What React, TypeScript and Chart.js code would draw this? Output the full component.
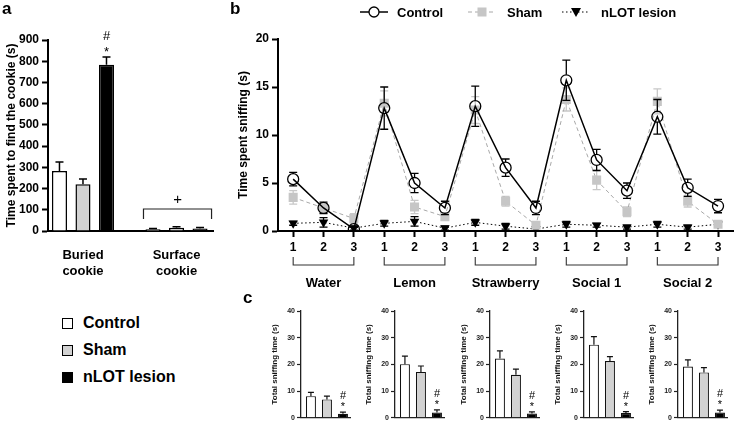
import React, { useEffect, useRef } from "react";
import { Chart, registerables } from "chart.js";
Chart.register(...registerables);

const FONT = "'Liberation Sans', Arial, Helvetica, sans-serif";

// ---------- shared ----------
const seriesNames = ["Control", "Sham", "nLOT lesion"];
const seriesFill = ["#ffffff", "#d2d2d2", "#000000"];
const sigMarks = ["#", "*"];

// ---------- panel a ----------
const cookieLabels = [["Buried", "cookie"], ["Surface", "cookie"]];
const cookieControl = [283, 8];
const cookieControlErr = [42, 4];
const cookieSham = [220, 15];
const cookieShamErr = [25, 5];
const cookieLesion = [783, 12];
const cookieLesionErr = [37, 5];
const cookieMark = "+";

// ---------- panel b ----------
const trialLabels = ["1", "2", "3", "1", "2", "3", "1", "2", "3", "1", "2", "3", "1", "2", "3"];
const odorNames = ["Water", "Lemon", "Strawberry", "Social 1", "Social 2"];
const sniffControl = [5.4, 2.4, 0.2, 12.8, 5.0, 2.4, 13.0, 6.6, 2.4, 15.7, 7.4, 4.2, 11.9, 4.5, 2.6];
const sniffControlErr = [0.7, 0.6, 0.2, 2.2, 1.0, 0.7, 2.1, 0.9, 0.7, 2.1, 1.1, 0.8, 1.8, 0.9, 0.7];
const sniffSham = [3.5, 2.4, 1.3, 13.3, 2.5, 1.5, 12.6, 3.1, 0.6, 13.7, 5.3, 2.0, 13.5, 3.1, 0.7];
const sniffShamErr = [0.7, 0.5, 0.5, 1.3, 0.7, 0.4, 1.4, 0.5, 0.3, 1.2, 1.0, 0.5, 1.3, 0.6, 0.3];
const sniffLesion = [0.8, 0.9, 0.3, 0.8, 1.0, 0.3, 0.9, 0.5, 0.2, 0.7, 0.6, 0.4, 0.7, 0.4, 0.7];
const sniffLesionErr = [0.2, 0.5, 0.2, 0.3, 0.5, 0.2, 0.3, 0.3, 0.2, 0.3, 0.2, 0.2, 0.3, 0.2, 0.2];

// ---------- panel c ----------
const totalControl = [8.1, 20.1, 22.2, 27.4, 19.2];
const totalControlErr = [1.4, 3.0, 2.9, 3.0, 2.5];
const totalSham = [6.9, 17.2, 16.1, 21.3, 17.0];
const totalShamErr = [1.2, 2.2, 2.1, 1.6, 1.8];
const totalLesion = [1.5, 2.0, 1.6, 1.8, 2.0];
const totalLesionErr = [0.6, 1.0, 0.6, 0.5, 0.9];

// ---------- plugins ----------
function barErrors(cap: number, width: number, color: string) {
  return {
    id: "barErrors",
    afterDatasetsDraw(chart: any) {
      const { ctx } = chart;
      const y = chart.scales.y;
      chart.data.datasets.forEach((ds: any, di: number) => {
        const meta = chart.getDatasetMeta(di);
        meta.data.forEach((el: any, j: number) => {
          const v = ds.data[j].y;
          const e = ds.errors[j];
          const top = y.getPixelForValue(v + e);
          ctx.save();
          ctx.strokeStyle = color;
          ctx.lineWidth = width;
          ctx.beginPath();
          ctx.moveTo(el.x, el.y);
          ctx.lineTo(el.x, top);
          ctx.moveTo(el.x - cap / 2, top);
          ctx.lineTo(el.x + cap / 2, top);
          ctx.stroke();
          ctx.restore();
        });
      });
    },
  };
}

function sigPlugin(di: number, idx: number, size: number, starGap: number, hashGap: number) {
  return {
    id: "sig",
    afterDatasetsDraw(chart: any) {
      const { ctx } = chart;
      const ds: any = chart.data.datasets[di];
      const el: any = chart.getDatasetMeta(di).data[idx];
      const top = chart.scales.y.getPixelForValue(ds.data[idx].y + ds.errors[idx]);
      ctx.save();
      ctx.fillStyle = "#000";
      ctx.font = `${size}px ${FONT}`;
      ctx.textAlign = "center";
      ctx.textBaseline = "middle";
      ctx.fillText(sigMarks[0], el.x, top - hashGap);
      ctx.fillText(sigMarks[1], el.x, top - starGap);
      ctx.restore();
    },
  };
}

const cookieBracket = {
  id: "cookieBracket",
  afterDatasetsDraw(chart: any) {
    const { ctx, chartArea } = chart;
    const a: any = chart.getDatasetMeta(0).data[1];
    const b: any = chart.getDatasetMeta(2).data[1];
    const x1 = a.x - a.width / 2 - 2;
    const x2 = b.x + b.width / 2 + 4;
    const yTop = chartArea.bottom - 22;
    const yBot = chartArea.bottom - 12;
    ctx.save();
    ctx.strokeStyle = "#222";
    ctx.lineWidth = 1.2;
    ctx.beginPath();
    ctx.moveTo(x1, yBot);
    ctx.lineTo(x1, yTop);
    ctx.lineTo(x2, yTop);
    ctx.lineTo(x2, yBot);
    ctx.stroke();
    ctx.fillStyle = "#000";
    ctx.font = `15px ${FONT}`;
    ctx.textAlign = "center";
    ctx.textBaseline = "middle";
    ctx.fillText(cookieMark, (x1 + x2) / 2, yTop - 9);
    ctx.restore();
  },
};

const lineErrors = {
  id: "lineErrors",
  beforeDatasetDraw(chart: any, args: any) {
    const { ctx } = chart;
    const ds: any = chart.data.datasets[args.index];
    const y = chart.scales.y;
    ctx.save();
    ctx.strokeStyle = ds.errColor;
    ctx.lineWidth = 1.3;
    args.meta.data.forEach((el: any, j: number) => {
      const v = ds.data[j];
      const e = ds.errors[j];
      const top = y.getPixelForValue(v + e);
      const bot = y.getPixelForValue(Math.max(v - e, 0));
      const r = ds.skipR;
      ctx.beginPath();
      if (top < el.y - r) {
        ctx.moveTo(el.x, el.y - r);
        ctx.lineTo(el.x, top);
      }
      if (bot > el.y + r) {
        ctx.moveTo(el.x, el.y + r);
        ctx.lineTo(el.x, bot);
      }
      ctx.moveTo(el.x - 4, top);
      ctx.lineTo(el.x + 4, top);
      ctx.moveTo(el.x - 4, bot);
      ctx.lineTo(el.x + 4, bot);
      ctx.stroke();
    });
    ctx.restore();
  },
};

const odorBrackets = {
  id: "odorBrackets",
  afterDraw(chart: any) {
    const { ctx } = chart;
    const x = chart.scales.x;
    ctx.save();
    ctx.strokeStyle = "#333";
    ctx.lineWidth = 1.1;
    odorNames.forEach((name, g) => {
      const x1 = x.getPixelForValue(g * 3);
      const x2 = x.getPixelForValue(g * 3 + 2);
      ctx.beginPath();
      ctx.moveTo(x1, 257);
      ctx.lineTo(x1, 265);
      ctx.lineTo(x2, 265);
      ctx.lineTo(x2, 257);
      ctx.stroke();
      ctx.fillStyle = "#000";
      ctx.font = `bold 13px ${FONT}`;
      ctx.textAlign = "center";
      ctx.textBaseline = "middle";
      ctx.fillText(name, (x1 + x2) / 2, 283);
    });
    ctx.restore();
  },
};

const sniffLegend = {
  id: "sniffLegend",
  afterDraw(chart: any) {
    const { ctx } = chart;
    const y = 12;
    const items = [
      { x: 130, tx: 167 },
      { x: 238, tx: 277 },
      { x: 332, tx: 371 },
    ];
    ctx.save();
    items.forEach((it, i) => {
      const ds: any = chart.data.datasets[i];
      ctx.strokeStyle = ds.borderColor;
      ctx.lineWidth = ds.borderWidth;
      ctx.setLineDash(ds.borderDash || []);
      ctx.beginPath();
      ctx.moveTo(it.x, y);
      ctx.lineTo(it.x + 28, y);
      ctx.stroke();
      ctx.setLineDash([]);
      const cx = it.x + 14;
      if (i === 0) {
        ctx.fillStyle = "#fff";
        ctx.strokeStyle = "#000";
        ctx.lineWidth = 1.3;
        ctx.beginPath();
        ctx.arc(cx, y, 5, 0, Math.PI * 2);
        ctx.fill();
        ctx.stroke();
      } else if (i === 1) {
        ctx.fillStyle = "#c6c6c6";
        ctx.fillRect(cx - 4.5, y - 4.5, 9, 9);
      } else {
        ctx.fillStyle = "#000";
        ctx.beginPath();
        ctx.moveTo(cx - 5, y - 4);
        ctx.lineTo(cx + 5, y - 4);
        ctx.lineTo(cx, y + 5);
        ctx.closePath();
        ctx.fill();
      }
      ctx.fillStyle = "#000";
      ctx.font = `bold 13px ${FONT}`;
      ctx.textAlign = "left";
      ctx.textBaseline = "middle";
      ctx.fillText(ds.label, it.tx, y + 1);
    });
    ctx.restore();
  },
};

// ---------- components ----------
function useChart(makeConfig: () => any) {
  const ref = useRef<HTMLCanvasElement | null>(null);
  useEffect(() => {
    if (!ref.current) return;
    const chart = new Chart(ref.current, makeConfig());
    return () => chart.destroy();
  }, []);
  return ref;
}

const boldTick = (size: number) => ({ family: FONT, size, weight: "bold" as const });

function PanelA() {
  const ref = useChart(() => {
    const vals = [cookieControl, cookieSham, cookieLesion];
    const errs = [cookieControlErr, cookieShamErr, cookieLesionErr];
    return {
      type: "bar",
      data: {
        datasets: seriesNames.map((name, s) => ({
          label: name,
          data: vals[s].map((v, i) => ({ x: i, y: v })),
          errors: errs[s],
          backgroundColor: seriesFill[s],
          borderColor: "#000",
          borderWidth: 1.5,
          categoryPercentage: 0.754,
          barPercentage: 0.64,
        })),
      },
      options: {
        responsive: false,
        animation: false,
        layout: { padding: { left: 0, top: 40, right: 17, bottom: 4 } },
        plugins: { legend: { display: false }, tooltip: { enabled: false } },
        scales: {
          x: {
            type: "linear",
            offset: false,
            min: -0.374,
            max: 1.39,
            afterBuildTicks: (s: any) => {
              s.ticks = cookieLabels.map((_, i) => ({ value: i }));
            },
            afterFit: (s: any) => {
              s.height = 45;
            },
            grid: { display: false, offset: false },
            border: { color: "#000", width: 2 },
            ticks: {
              callback: (v: number) => cookieLabels[v],
              font: boldTick(13),
              color: "#000",
              padding: 9,
              autoSkip: false,
              maxRotation: 0,
            },
          },
          y: {
            min: 0,
            max: 900,
            afterFit: (s: any) => {
              s.width = 48;
            },
            ticks: { stepSize: 100, font: boldTick(12), color: "#000", padding: 3 },
            grid: { drawOnChartArea: false, tickLength: 6, tickWidth: 2, tickColor: "#000" },
            border: { color: "#000", width: 2 },
            title: {
              display: true,
              text: "Time spent to find the cookie (s)",
              font: boldTick(12),
              color: "#000",
            },
          },
        },
      },
      plugins: [barErrors(8, 1.5, "#000"), sigPlugin(2, 0, 13, 5, 21), cookieBracket],
    };
  });
  return (
    <canvas
      ref={ref}
      width={230}
      height={280}
      style={{ position: "absolute", left: 0, top: 0, width: 230, height: 280 }}
    />
  );
}

function PanelB() {
  const ref = useChart(() => ({
    type: "line",
    data: {
      labels: trialLabels,
      datasets: [
        {
          label: seriesNames[0],
          data: sniffControl,
          errors: sniffControlErr,
          errColor: "#000",
          skipR: 5.5,
          borderColor: "#000",
          borderWidth: 1.5,
          tension: 0,
          pointStyle: "circle",
          pointRadius: 5.5,
          pointBackgroundColor: "rgba(255,255,255,0)",
          pointBorderColor: "#000",
          pointBorderWidth: 1.3,
        },
        {
          label: seriesNames[1],
          data: sniffSham,
          errors: sniffShamErr,
          errColor: "#c8c8c8",
          skipR: 0,
          borderColor: "#a8a8a8",
          borderWidth: 1,
          borderDash: [4, 3],
          tension: 0,
          pointStyle: "rect",
          pointRadius: 6.4,
          pointBackgroundColor: "#c6c6c6",
          pointBorderColor: "#c6c6c6",
          pointBorderWidth: 0,
        },
        {
          label: seriesNames[2],
          data: sniffLesion,
          errors: sniffLesionErr,
          errColor: "#000",
          skipR: 0,
          borderColor: "#000",
          borderWidth: 1,
          borderDash: [1.5, 2.5],
          tension: 0,
          pointStyle: "triangle",
          pointRotation: 180,
          pointRadius: 5.5,
          pointBackgroundColor: "#000",
          pointBorderColor: "#000",
          pointBorderWidth: 0,
        },
      ],
    },
    options: {
      responsive: false,
      animation: false,
      layout: { padding: { left: 0, top: 39, right: 5, bottom: 0 } },
      plugins: { legend: { display: false }, tooltip: { enabled: false } },
      scales: {
        x: {
          offset: true,
          afterFit: (s: any) => {
            s.height = 69;
          },
          grid: { drawOnChartArea: false, offset: false, tickLength: 6, tickWidth: 2, tickColor: "#000" },
          border: { color: "#000", width: 2 },
          ticks: { font: boldTick(12), color: "#000", padding: 3, autoSkip: false, maxRotation: 0 },
        },
        y: {
          min: 0,
          max: 20,
          afterFit: (s: any) => {
            s.width = 48;
          },
          ticks: { stepSize: 5, font: boldTick(12), color: "#000", padding: 3 },
          grid: { drawOnChartArea: false, tickLength: 6, tickWidth: 2, tickColor: "#000" },
          border: { color: "#000", width: 2 },
          title: {
            display: true,
            text: "Time spent sniffing (s)",
            font: boldTick(12),
            color: "#000",
            padding: { top: 6, bottom: 4 },
          },
        },
      },
    },
    plugins: [lineErrors, odorBrackets, sniffLegend],
  }));
  return (
    <canvas
      ref={ref}
      width={510}
      height={300}
      style={{ position: "absolute", left: 230, top: 0, width: 510, height: 300 }}
    />
  );
}

function PanelC({ i }: { i: number }) {
  const ref = useChart(() => {
    const vals = [totalControl[i], totalSham[i], totalLesion[i]];
    const errs = [totalControlErr[i], totalShamErr[i], totalLesionErr[i]];
    return {
      type: "bar",
      data: {
        datasets: [
          {
            label: odorNames[i],
            data: vals.map((v, k) => ({ x: k, y: v })),
            errors: errs,
            backgroundColor: seriesFill,
            borderColor: "#111",
            borderWidth: 1.2,
            categoryPercentage: 1,
            barPercentage: 0.625,
          },
        ],
      },
      options: {
        responsive: false,
        animation: false,
        layout: { padding: { left: 0, top: 16, right: 8, bottom: 6 } },
        plugins: { legend: { display: false }, tooltip: { enabled: false } },
        scales: {
          x: {
            type: "linear",
            offset: false,
            min: -0.62,
            max: 2.44,
            afterBuildTicks: (s: any) => {
              s.ticks = vals.map((_, k) => ({ value: k }));
            },
            afterFit: (s: any) => {
              s.height = 0;
            },
            ticks: { display: false },
            grid: { display: false, offset: false },
            border: { color: "#222", width: 1.3 },
          },
          y: {
            min: 0,
            max: 40,
            afterFit: (s: any) => {
              s.width = 33;
            },
            ticks: { stepSize: 10, font: boldTick(7), color: "#222", padding: 2 },
            grid: { drawOnChartArea: false, tickLength: 4, tickWidth: 1.2, tickColor: "#222" },
            border: { color: "#222", width: 1.3 },
            title: {
              display: true,
              text: "Total sniffing time (s)",
              font: boldTick(8),
              color: "#111",
              padding: { top: 2, bottom: 2 },
            },
          },
        },
      },
      plugins: [barErrors(6, 1.2, "#111"), sigPlugin(0, 2, 11, 5, 16)],
    };
  });
  const left = 301 + 94.3 * i - 33;
  return (
    <canvas
      ref={ref}
      width={90}
      height={129}
      style={{ position: "absolute", left, top: 295, width: 90, height: 129 }}
    />
  );
}

const letterStyle = (left: number, top: number): React.CSSProperties => ({
  position: "absolute",
  left,
  top,
  font: `bold 17px ${FONT}`,
  color: "#000",
  lineHeight: "17px",
});

export default function App() {
  return (
    <div
      style={{
        position: "absolute",
        left: 0,
        top: 0,
        width: 740,
        height: 424,
        background: "#fff",
        overflow: "hidden",
        fontFamily: FONT,
      }}
    >
      <PanelA />
      <PanelB />
      {odorNames.map((_, i) => (
        <PanelC key={i} i={i} />
      ))}
      <div style={letterStyle(2, 0)}>a</div>
      <div style={letterStyle(230, 0)}>b</div>
      <div style={letterStyle(243, 289)}>c</div>
      {seriesNames.map((name, s) => (
        <div
          key={name}
          style={{ position: "absolute", left: 62, top: 313 + s * 27, height: 20, display: "flex", alignItems: "center" }}
        >
          <div
            style={{
              width: 9,
              height: 9,
              background: seriesFill[s],
              border: "1px solid #000",
              marginRight: 10,
            }}
          />
          <span style={{ font: `bold 16px ${FONT}`, color: "#000" }}>{name}</span>
        </div>
      ))}
    </div>
  );
}
